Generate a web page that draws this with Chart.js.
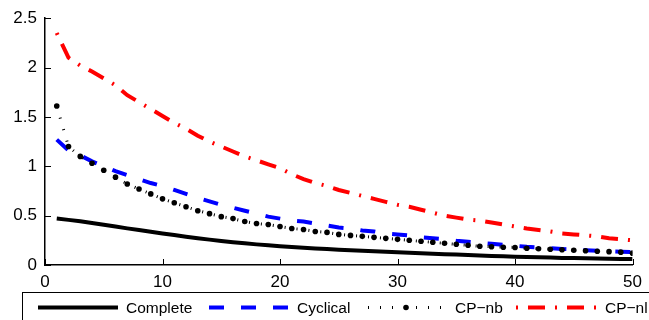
<!DOCTYPE html>
<html>
<head>
<meta charset="utf-8">
<style>
  html, body { margin: 0; padding: 0; background: #fff; }
  canvas { display: block; }
</style>
<script src="https://cdn.jsdelivr.net/npm/chart.js@4.4.1/dist/chart.umd.min.js"></script>
</head>
<body>
<canvas id="chart" width="649" height="320"></canvas>
<script>
// horizon (x) values
const steps = [1, 2, 3, 4, 5, 6, 7, 8, 9, 10,
  11, 12, 13, 14, 15, 16, 17, 18, 19, 20,
  21, 22, 23, 24, 25, 26, 27, 28, 29, 30,
  31, 32, 33, 34, 35, 36, 37, 38, 39, 40,
  41, 42, 43, 44, 45, 46, 47, 48, 49, 50];

const complete = [0.47, 0.457, 0.443, 0.426, 0.408, 0.389, 0.371, 0.354, 0.337, 0.32,
  0.303, 0.287, 0.271, 0.257, 0.243, 0.231, 0.22, 0.209, 0.199, 0.19,
  0.182, 0.175, 0.168, 0.161, 0.155, 0.149, 0.144, 0.139, 0.134, 0.13,
  0.125, 0.12, 0.115, 0.11, 0.106, 0.101, 0.097, 0.092, 0.088, 0.084,
  0.081, 0.078, 0.075, 0.072, 0.07, 0.068, 0.066, 0.064, 0.062, 0.06];

const cyclical = [1.27, 1.16, 1.11, 1.05, 1.00, 0.95, 0.91, 0.87, 0.83, 0.80,
  0.76, 0.72, 0.68, 0.645, 0.61, 0.58, 0.55, 0.52, 0.49, 0.47,
  0.45, 0.44, 0.42, 0.40, 0.38, 0.37, 0.35, 0.34, 0.32, 0.31,
  0.30, 0.28, 0.27, 0.26, 0.245, 0.235, 0.225, 0.215, 0.205, 0.195,
  0.185, 0.178, 0.17, 0.163, 0.157, 0.15, 0.145, 0.14, 0.135, 0.13];

const cpNb = [1.61, 1.20, 1.10, 1.03, 0.96, 0.89, 0.82, 0.77, 0.72, 0.67,
  0.63, 0.59, 0.55, 0.52, 0.49, 0.47, 0.44, 0.42, 0.41, 0.39,
  0.37, 0.36, 0.34, 0.33, 0.31, 0.30, 0.29, 0.28, 0.27, 0.26,
  0.25, 0.24, 0.23, 0.22, 0.21, 0.20, 0.19, 0.185, 0.18, 0.178,
  0.17, 0.165, 0.16, 0.155, 0.15, 0.145, 0.14, 0.135, 0.13, 0.12];

const cpNl = [2.35, 2.10, 2.02, 1.96, 1.89, 1.82, 1.72, 1.65, 1.58, 1.51,
  1.44, 1.38, 1.31, 1.25, 1.20, 1.15, 1.10, 1.06, 1.02, 0.98,
  0.92, 0.87, 0.83, 0.80, 0.76, 0.73, 0.70, 0.67, 0.64, 0.61,
  0.59, 0.56, 0.53, 0.50, 0.48, 0.46, 0.45, 0.43, 0.41, 0.39,
  0.37, 0.355, 0.34, 0.32, 0.31, 0.30, 0.29, 0.27, 0.26, 0.25];

const seriesNames = ['Complete', 'Cyclical', 'CP\u2212nb', 'CP\u2212nl'];
const xTicks = [0, 10, 20, 30, 40, 50];
const yTicks = [0, 0.5, 1, 1.5, 2, 2.5];

const FONT = '"Liberation Sans", Arial, Helvetica, sans-serif';

function pts(values) {
  return steps.map((s, i) => ({ x: s, y: values[i] }));
}

// inward tick marks (matlab style)
const innerTicks = {
  id: 'innerTicks',
  afterDatasetsDraw(chart) {
    const { ctx, chartArea: a, scales: { x, y } } = chart;
    ctx.save();
    ctx.strokeStyle = '#000';
    ctx.lineWidth = 1;
    ctx.beginPath();
    xTicks.forEach(v => {
      const px = Math.round(x.getPixelForValue(v)) + 0.5;
      ctx.moveTo(px, a.bottom);
      ctx.lineTo(px, a.bottom - 6);
    });
    yTicks.forEach(v => {
      const py = Math.round(y.getPixelForValue(v)) + 0.5;
      ctx.moveTo(a.left, py);
      ctx.lineTo(a.left + 6, py);
    });
    ctx.stroke();
    ctx.restore();
  }
};

// boxed legend under the axis, runs off the right edge like the original
const boxLegend = {
  id: 'boxLegend',
  afterDraw(chart) {
    const ctx = chart.ctx;
    const lineX = [38, 209, 368, 516];
    const textX = [126, 297, 455, 605];
    const yMid = 307.5;
    ctx.save();
    ctx.strokeStyle = '#000';
    ctx.lineWidth = 1;
    ctx.strokeRect(22.5, 292.5, 700, 60);
    chart.data.datasets.forEach((ds, i) => {
      const x0 = lineX[i];
      const x1 = x0 + 80;
      ctx.save();
      ctx.strokeStyle = ds.borderColor;
      ctx.lineWidth = ds.borderWidth;
      ctx.lineCap = 'butt';
      ctx.setLineDash(ds.borderDash || []);
      ctx.lineDashOffset = ds.borderDashOffset || 0;
      ctx.beginPath();
      ctx.moveTo(x0, yMid);
      ctx.lineTo(x1, yMid);
      ctx.stroke();
      ctx.restore();
      if (ds.pointRadius > 0) {
        ctx.fillStyle = ds.pointBackgroundColor;
        ctx.beginPath();
        ctx.arc(x0 + 38, yMid, ds.pointRadius, 0, Math.PI * 2);
        ctx.fill();
      }
      ctx.fillStyle = '#000';
      ctx.font = '15.5px ' + FONT;
      ctx.textBaseline = 'alphabetic';
      ctx.fillText(ds.label, textX[i], 313);
    });
    ctx.restore();
  }
};

new Chart(document.getElementById('chart'), {
  type: 'line',
  data: {
    datasets: [
      {
        label: seriesNames[0],
        data: pts(complete),
        borderColor: '#000000',
        borderWidth: 4,
        pointRadius: 0,
        order: 2
      },
      {
        label: seriesNames[1],
        data: pts(cyclical),
        borderColor: '#0000ff',
        borderWidth: 4,
        borderDash: [15, 17],
        pointRadius: 0,
        order: 1
      },
      {
        label: seriesNames[2],
        data: pts(cpNb),
        borderColor: '#000000',
        borderWidth: 3,
        borderDash: [1, 11],
        pointRadius: 2.8,
        pointBorderWidth: 0,
        pointBackgroundColor: '#000000',
        order: 0
      },
      {
        label: seriesNames[3],
        data: pts(cpNl),
        borderColor: '#ff0000',
        borderWidth: 4,
        borderDash: [17, 10, 2, 10],
        borderDashOffset: 27,
        pointRadius: 0,
        order: 3
      }
    ]
  },
  options: {
    responsive: false,
    animation: false,
    events: [],
    layout: { padding: { top: 17, right: 15, bottom: 29, left: 0 } },
    plugins: {
      legend: { display: false },
      tooltip: { enabled: false }
    },
    scales: {
      x: {
        type: 'linear',
        min: 0,
        max: 50,
        afterFit: s => { s.height = 26; },
        afterBuildTicks: s => { s.ticks = xTicks.map(v => ({ value: v })); },
        grid: { display: false, drawTicks: false },
        border: { display: true, color: '#000', width: 1.5 },
        ticks: {
          padding: 7,
          color: '#000',
          font: { family: FONT, size: 17 }
        }
      },
      y: {
        min: 0,
        max: 2.5,
        afterFit: s => { s.width = 45; },
        afterBuildTicks: s => { s.ticks = yTicks.map(v => ({ value: v })); },
        grid: { display: false, drawTicks: false },
        border: { display: true, color: '#000', width: 1.5 },
        ticks: {
          padding: 8,
          color: '#000',
          font: { family: FONT, size: 17 },
          callback: v => String(v)
        }
      }
    }
  },
  plugins: [innerTicks, boxLegend]
});
</script>
</body>
</html>
